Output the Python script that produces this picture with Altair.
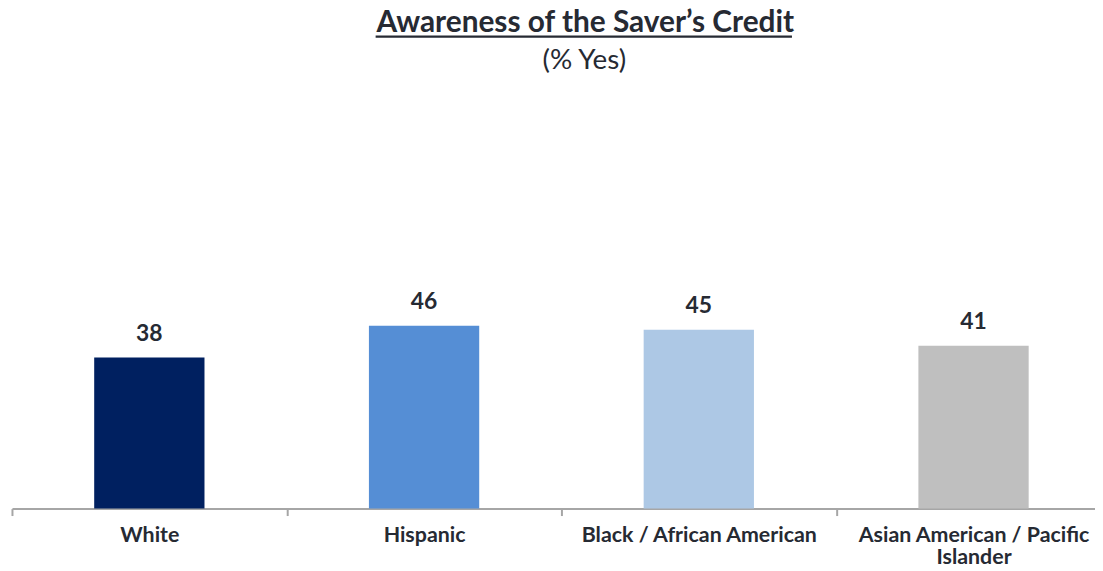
import altair as alt
import pandas as pd

categories = ["White", "Hispanic", "Black / African American", "Asian American / Pacific Islander"]
values = [38, 46, 45, 41]
colors = ["#002060", "#558ED5", "#ADC8E5", "#BFBFBF"]
title_text = ["Awareness of the Saver’s Credit"]
subtitle_text = ["(% Yes)"]

df = pd.DataFrame({"group": categories, "pct": values})

FONT = "Lato"
TXT = "#262a33"

x = alt.X(
    "group:N",
    sort=categories,
    title=None,
    scale=alt.Scale(range=[0, 1106], paddingInner=0, paddingOuter=0),
    axis=alt.Axis(
        labelAngle=0,
        labelFont=FONT,
        labelFontSize=21.5,
        labelFontWeight="bold",
        labelColor=TXT,
        labelPadding=9,
        labelLimit=400,
        labelLineHeight=22,
        labelExpr="datum.value == 'Asian American / Pacific Islander' ? ['Asian American / Pacific', 'Islander'] : datum.value",
        domainColor="#A6A6A6",
        domainWidth=2,
        tickColor="#A6A6A6",
        tickWidth=2,
        tickSize=7,
        tickBand="extent",
        grid=False,
    ),
)
y = alt.Y("pct:Q", scale=alt.Scale(domain=[0, 100]), axis=None)

base = alt.Chart(df).encode(x=x, y=y)

bars = base.mark_bar(size=111).encode(
    color=alt.Color("group:N", scale=alt.Scale(domain=categories, range=colors), legend=None)
)
labels = base.mark_text(
    font=FONT, fontSize=23, fontWeight="bold", color=TXT, baseline="alphabetic", dy=-17
).encode(text="pct:Q")

title = alt.Chart(pd.DataFrame({"t": title_text})).mark_text(
    font=FONT, fontSize=30, fontWeight="bold", color=TXT, baseline="alphabetic", align="center"
).encode(text="t:N", x=alt.value(577), y=alt.value(-80))

subtitle = alt.Chart(pd.DataFrame({"t": subtitle_text})).mark_text(
    font=FONT, fontSize=28, color=TXT, baseline="alphabetic", align="center"
).encode(text="t:N", x=alt.value(576), y=alt.value(-42))

underline = alt.Chart(pd.DataFrame({"t": title_text})).mark_rule(color=TXT, strokeWidth=2.5).encode(
    x=alt.value(366), x2=alt.value(785), y=alt.value(-75)
)

chart = alt.layer(bars, labels, title, subtitle, underline).properties(
    width=1090,
    height=400,
    autosize=alt.AutoSizeParams(type="none"),
    padding={"left": 4, "top": 102, "right": 0, "bottom": 60},
).configure_view(stroke=None)

chart.save("out.html", embed_options={"renderer": "svg", "actions": False})
